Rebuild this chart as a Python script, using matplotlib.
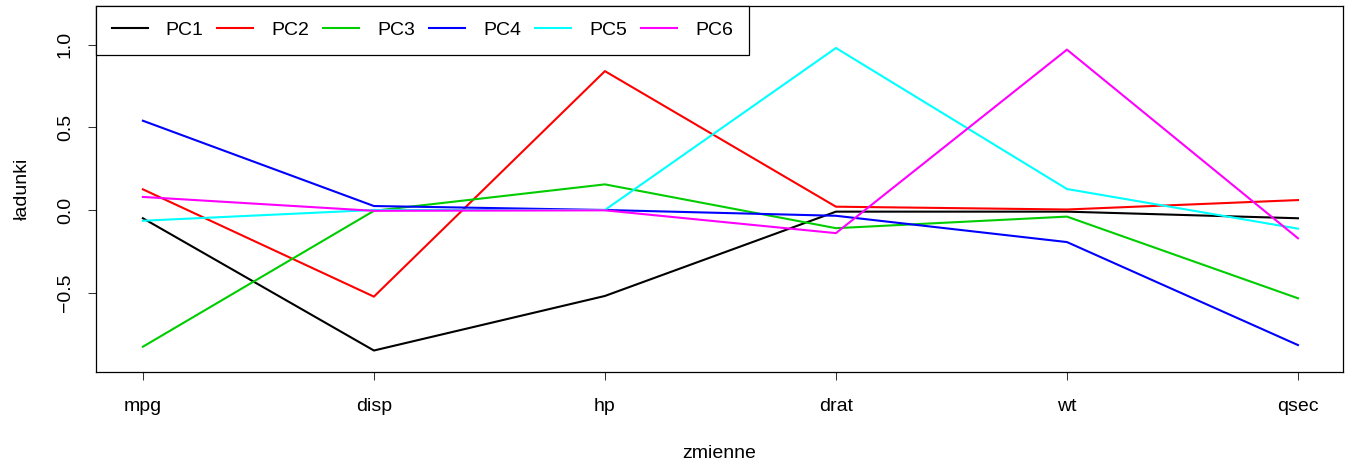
import numpy as np
import matplotlib.pyplot as plt

plt.rcParams['font.family'] = ['Liberation Sans', 'DejaVu Sans']

zmienne = ['mpg', 'disp', 'hp', 'drat', 'wt', 'qsec']
pc1 = [-0.05, -0.85, -0.52, -0.01, -0.01, -0.05]
pc2 = [0.125, -0.524, 0.84, 0.02, 0.003, 0.06]
pc3 = [-0.827, -0.005, 0.155, -0.11, -0.04, -0.534]
pc4 = [0.54, 0.024, 0.0, -0.035, -0.194, -0.817]
pc5 = [-0.065, 0.0, 0.0, 0.98, 0.127, -0.113]
pc6 = [0.079, -0.005, -0.002, -0.14, 0.97, -0.171]
nazwy = ['PC1', 'PC2', 'PC3', 'PC4', 'PC5', 'PC6']
kolory = ['black', '#FF0000', '#00CD00', '#0000FF', '#00FFFF', '#FF00FF']

fig = plt.figure(figsize=(13.52, 4.70), dpi=100)
ax = fig.add_axes([96/1352, (470-372)/470, (1343-96)/1352, (372-6)/470])

x = np.arange(1, len(zmienne) + 1)
for vals, nm, col in zip([pc1, pc2, pc3, pc4, pc5, pc6], nazwy, kolory):
    ax.plot(x, vals, color=col, lw=1.5, label=nm)

ax.set_xlim(0.797, 6.195)
ax.set_ylim(-0.98, 1.234)
ax.set_xticks(x)
ax.set_xticklabels(zmienne)
ax.set_yticks([-0.5, 0.0, 0.5, 1.0])
ax.set_yticklabels(['\u22120.5', '0.0', '0.5', '1.0'], rotation=90, va='center')
ax.tick_params(axis='both', labelsize=14, length=6, width=0.75, color='#333333')
ax.tick_params(axis='x', pad=13)
ax.tick_params(axis='y', pad=10)
for s in ax.spines.values():
    s.set_linewidth(0.9)

ax.set_xlabel('zmienne', fontsize=14, labelpad=21)
ax.set_ylabel('ładunki', fontsize=14, labelpad=19)

leg = ax.legend(loc='upper left', bbox_to_anchor=(0, 1), borderaxespad=0,
                ncol=6, fontsize=14, handlelength=1.85, handletextpad=0.93,
                columnspacing=0.72, fancybox=False, edgecolor='black',
                framealpha=1, borderpad=0.8)
leg.get_frame().set_linewidth(0.9)

fig.savefig('out.png', dpi=100)
